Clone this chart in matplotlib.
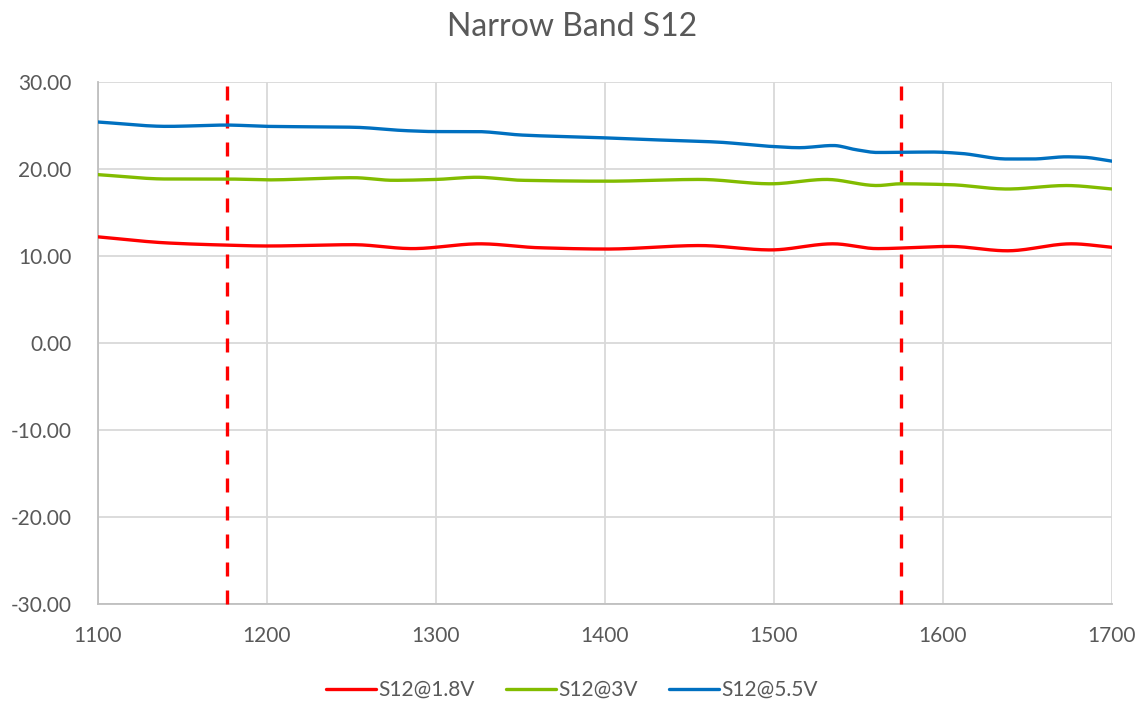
import matplotlib
matplotlib.use("Agg")
import matplotlib.pyplot as plt
import numpy as np

plt.rcParams['font.family'] = ['Lato', 'DejaVu Sans']

title = "Narrow Band S12"
freq_blue = [1100, 1141, 1176, 1200, 1251, 1283, 1300, 1324, 1351, 1397, 1437, 1466, 1498, 1515, 1535, 1549, 1561, 1594, 1610, 1638, 1653, 1673, 1683, 1700]
s12_55 = [25.4, 24.9, 25.05, 24.9, 24.8, 24.4, 24.3, 24.3, 23.9, 23.6, 23.3, 23.1, 22.6, 22.45, 22.7, 22.2, 21.9, 21.95, 21.8, 21.15, 21.15, 21.4, 21.35, 20.9]
freq_green = [1100, 1141, 1176, 1200, 1251, 1275, 1300, 1324, 1351, 1401, 1456, 1498, 1531, 1561, 1575, 1604, 1638, 1673, 1700]
s12_3 = [19.35, 18.85, 18.85, 18.75, 19.0, 18.7, 18.8, 19.05, 18.7, 18.6, 18.8, 18.3, 18.8, 18.1, 18.3, 18.2, 17.7, 18.1, 17.7]
freq_red = [1100, 1141, 1176, 1200, 1251, 1286, 1326, 1361, 1401, 1456, 1498, 1535, 1561, 1604, 1638, 1676, 1700]
s12_18 = [12.2, 11.5, 11.25, 11.15, 11.3, 10.85, 11.4, 10.95, 10.8, 11.2, 10.7, 11.4, 10.85, 11.1, 10.6, 11.4, 11.0]
markers_f = [1176.45, 1575.42]
xticks = [1100, 1200, 1300, 1400, 1500, 1600, 1700]
yticks = [-30, -20, -10, 0, 10, 20, 30]

def smooth(x, y, n=400):
    x = np.asarray(x, float); y = np.asarray(y, float)
    xs = np.linspace(x[0], x[-1], n)
    h = np.diff(x); d = np.diff(y) / h
    m = np.zeros_like(y)
    m[0] = d[0]; m[-1] = d[-1]
    for i in range(1, len(y) - 1):
        if d[i-1] * d[i] <= 0:
            m[i] = 0
        else:
            w1 = 2*h[i] + h[i-1]; w2 = h[i] + 2*h[i-1]
            m[i] = (w1 + w2) / (w1/d[i-1] + w2/d[i])
    idx = np.clip(np.searchsorted(x, xs) - 1, 0, len(x) - 2)
    t = (xs - x[idx]) / h[idx]
    h00 = 2*t**3 - 3*t**2 + 1; h10 = t**3 - 2*t**2 + t
    h01 = -2*t**3 + 3*t**2; h11 = t**3 - t**2
    ys = h00*y[idx] + h10*h[idx]*m[idx] + h01*y[idx+1] + h11*h[idx]*m[idx+1]
    return xs, ys

fig = plt.figure(figsize=(11.44, 7.02), dpi=100)
ax = fig.add_axes([98/1144, 1 - 604/702, (1112-98)/1144, (604-82)/702])

txt = '#595959'
for f in markers_f:
    ax.plot([f, f], [-30, 30], color='#FF0000', lw=2.4, linestyle=(0, (4.2, 4.2)), zorder=3, clip_on=False)

xr, yr = smooth(freq_red, s12_18)
xg, yg = smooth(freq_green, s12_3)
xb, yb = smooth(freq_blue, s12_55)
ax.plot(xr, yr, color='#FF0000', lw=2.4, label='S12@1.8V', zorder=4, solid_capstyle='round')
ax.plot(xg, yg, color='#82BC00', lw=2.4, label='S12@3V', zorder=4, solid_capstyle='round')
ax.plot(xb, yb, color='#0070C0', lw=2.4, label='S12@5.5V', zorder=4, solid_capstyle='round')

ax.set_xlim(1100, 1700)
ax.set_ylim(-30, 30)
ax.set_xticks(xticks)
ax.set_yticks(yticks)
ax.set_yticklabels([f"{v:.2f}" for v in yticks])
ax.grid(True, color='#D9D9D9', lw=1.3)
ax.set_axisbelow(True)
for s in ['top', 'right']:
    ax.spines[s].set_visible(False)
for s in ['left', 'bottom']:
    ax.spines[s].set_color('#BFBFBF')
    ax.spines[s].set_linewidth(1.3)
ax.tick_params(axis='both', length=0, labelsize=15, colors=txt)
ax.tick_params(axis='y', pad=19)
ax.tick_params(axis='x', pad=16)

fig.text(0.5, 1 - 27/702, title, ha='center', va='center', fontsize=23, color=txt)
fig.legend(loc='center', bbox_to_anchor=(0.5, 1 - 690/702), ncol=3, frameon=False,
           fontsize=15, labelcolor=txt, handlelength=2.4, columnspacing=1.5, handletextpad=0.1)

fig.savefig('out.png', dpi=100, facecolor='white')
